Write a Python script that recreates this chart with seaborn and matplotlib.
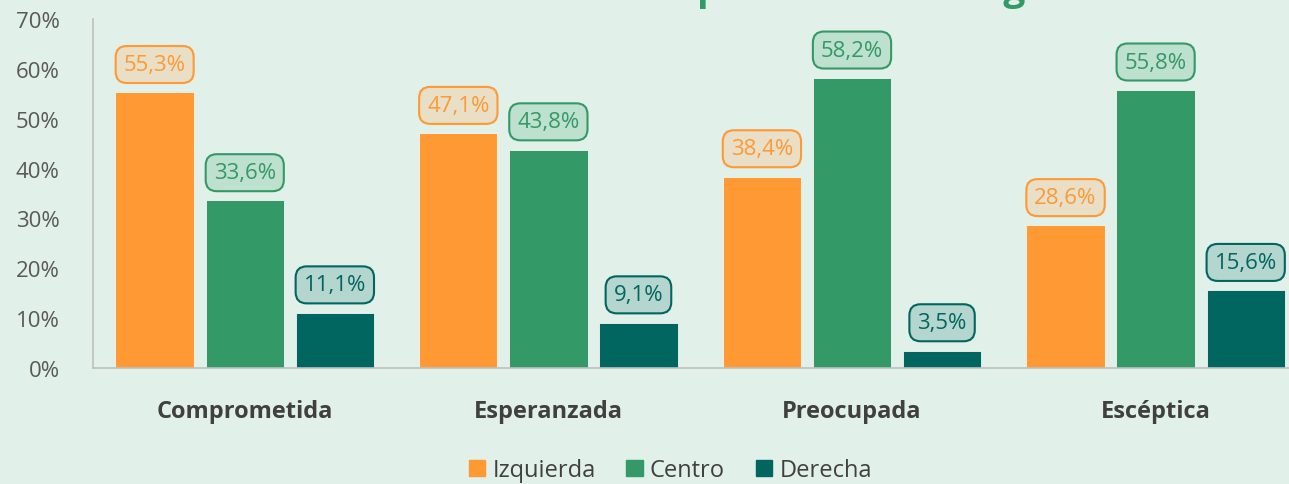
import pandas as pd
import seaborn as sns
import matplotlib.pyplot as plt

emociones = ["Comprometida", "Esperanzada", "Preocupada", "Escéptica"]
izquierda = [55.3, 47.1, 38.4, 28.6]
centro = [33.6, 43.8, 58.2, 55.8]
derecha = [11.1, 9.1, 3.5, 15.6]
series = ["Izquierda", "Centro", "Derecha"]

colores = {"Izquierda": "#FF9933", "Centro": "#339966", "Derecha": "#00665F"}
fondos_etiqueta = {"Izquierda": "#E8DFC6", "Centro": "#BEE0CE", "Derecha": "#B5D5CF"}
fondo = "#E1F0E8"

df = pd.DataFrame({
    "emocion": emociones * 3,
    "ideologia": [s for s in series for _ in emociones],
    "valor": izquierda + centro + derecha,
})

sns.set_style("white")
plt.rcParams["font.family"] = ["Open Sans", "DejaVu Sans"]

fig = plt.figure(figsize=(12.89, 4.85), dpi=100, facecolor=fondo)
ax = fig.add_axes([0.0721, 0.2392, 0.9422, 0.7196], facecolor=fondo)

sns.barplot(data=df, x="emocion", y="valor", hue="ideologia", palette=colores,
            width=0.89, gap=0.13, saturation=1, ax=ax, legend=False,
            edgecolor="#F0F7F3", linewidth=0.6)

ax.set_ylim(0, 70)
ax.set_yticks(range(0, 71, 10))
ax.set_yticklabels([f"{v}%" for v in range(0, 71, 10)], fontsize=16, color="#595959")
ax.set_xlabel("")
ax.set_ylabel("")
ax.tick_params(axis="x", length=0, pad=22)
ax.tick_params(axis="y", length=0, pad=24)
for lbl in ax.get_xticklabels():
    lbl.set_fontsize(17)
    lbl.set_fontweight("bold")
    lbl.set_color("#404040")

for side in ["top", "right"]:
    ax.spines[side].set_visible(False)
for side in ["left", "bottom"]:
    ax.spines[side].set_color("#BFBFBF")
    ax.spines[side].set_linewidth(1.2)

for cont, serie in zip(ax.containers, series):
    for bar in cont:
        h = bar.get_height()
        ax.annotate(f"{h:.1f}%".replace(".", ","),
                    (bar.get_x() + bar.get_width() / 2, h),
                    xytext=(0, 20), textcoords="offset points",
                    ha="center", va="center", fontsize=16, color=colores[serie],
                    bbox=dict(boxstyle="round,pad=0.36,rounding_size=0.5",
                              fc=fondos_etiqueta[serie], ec=colores[serie], lw=1.5))

handles = [plt.Rectangle((0, 0), 1, 1, color=colores[s]) for s in series]
fig.legend(handles, series, loc="lower center", bbox_to_anchor=(0.52, -0.04), ncol=3,
           frameon=False, fontsize=17, handlelength=0.7, handleheight=0.7,
           handletextpad=0.3, columnspacing=1.3, labelcolor="#404040")

fig.text(0.53, 1.0, "Sentimiento ante la política e ideología", ha="center", va="baseline",
         fontsize=28, fontweight="bold", color="#339966")

fig.savefig("out.png", dpi=100, facecolor=fondo)
